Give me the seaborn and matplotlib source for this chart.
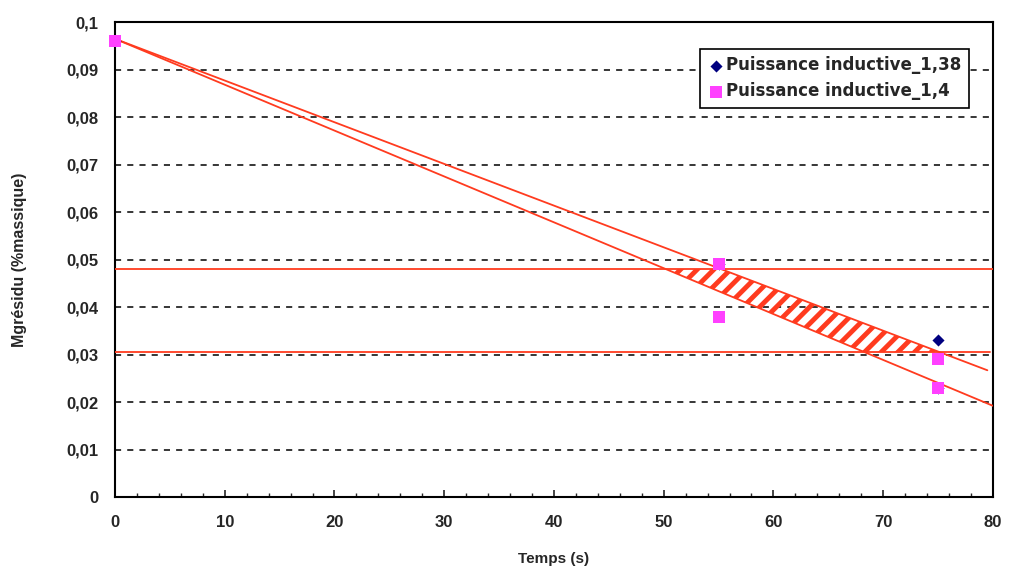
import numpy as np
import pandas as pd
import matplotlib.pyplot as plt
import seaborn as sns
from matplotlib.ticker import MultipleLocator, FuncFormatter

# Données
temps_138 = [75, 0, 55, 75]
mg_138 = [0.023, 0.096, 0.049, 0.033]
temps_14 = [0, 55, 55, 75, 75]
mg_14 = [0.096, 0.049, 0.038, 0.029, 0.023]

# Droites de tendance (ordonnée à l'origine, pente, fin)
tend_ordonnee = [0.0965, 0.0965]
tend_pente = [-0.000878, -0.000966]
tend_fin = [79.5, 80]

# Seuils horizontaux
seuils = [0.048, 0.0305]

df138 = pd.DataFrame({'Temps': temps_138, 'Mg': mg_138, 'Serie': 'Puissance inductive_1,38'})
df14 = pd.DataFrame({'Temps': temps_14, 'Mg': mg_14, 'Serie': 'Puissance inductive_1,4'})

sns.set_style('white')
plt.rcParams['font.family'] = ['Liberation Sans', 'DejaVu Sans']
plt.rcParams['hatch.linewidth'] = 3.5

rouge = '#ff3b1f'
fig = plt.figure(figsize=(10.09, 5.70), dpi=100)
ax = fig.add_axes([0.114, 0.128, 0.870, 0.833])

# zone hachurée entre les deux droites et les seuils
xx = np.linspace(0, 80, 801)
y1 = tend_ordonnee[0] + tend_pente[0] * xx
y2 = tend_ordonnee[1] + tend_pente[1] * xx
haut = np.minimum(y1, max(seuils))
bas = np.maximum(y2, min(seuils))
ax.fill_between(xx, bas, haut, where=haut > bas, facecolor='none', edgecolor=rouge,
                hatch='//', linewidth=0, zorder=2)

for b, a, fin in zip(tend_ordonnee, tend_pente, tend_fin):
    ax.plot([0, fin], [b, b + a * fin], color=rouge, lw=1.3, zorder=3)

ax.axhline(seuils[0], color=rouge, lw=1.3, zorder=3)
ax.plot([0, 79.7], [seuils[1], seuils[1]], color=rouge, lw=1.3, zorder=3)

sns.scatterplot(data=df138, x='Temps', y='Mg', color='#000080', marker='D',
                s=38, linewidth=0, ax=ax, zorder=4, clip_on=False, label='Puissance inductive_1,38')
sns.scatterplot(data=df14, x='Temps', y='Mg', color='#ff40ff', marker='s',
                s=80, linewidth=0, ax=ax, zorder=5, clip_on=False, label='Puissance inductive_1,4')

ax.set_xlim(0, 80)
ax.set_ylim(0, 0.1)
ax.xaxis.set_major_locator(MultipleLocator(10))
ax.xaxis.set_minor_locator(MultipleLocator(2))
ax.yaxis.set_major_locator(MultipleLocator(0.01))
fmt = FuncFormatter(lambda v, p: ('%g' % round(v, 3)).replace('.', ','))
ax.yaxis.set_major_formatter(fmt)

ax.grid(axis='y', color='black', linestyle=(0, (4, 4)), lw=1.1)
for sp in ax.spines.values():
    sp.set_color('black')
    sp.set_linewidth(1.5)

ax.tick_params(axis='x', which='major', direction='in', length=5, width=1.2, pad=13,
               labelsize=12, bottom=True)
ax.tick_params(axis='x', which='minor', direction='in', length=3, width=1, bottom=True)
ax.tick_params(axis='y', which='major', length=0, pad=12, labelsize=12)
for lab in ax.get_xticklabels() + ax.get_yticklabels():
    lab.set_fontweight('bold')

ax.set_xlabel('Temps (s)', fontsize=11, fontweight='bold', labelpad=16)
ax.set_ylabel('Mgrésidu (%massique)', fontsize=11.5, fontweight='bold', labelpad=28)

leg = ax.legend(loc='upper right', bbox_to_anchor=(0.982, 0.962), frameon=True, fancybox=False,
                edgecolor='black', framealpha=1,
                prop={'family': 'DejaVu Sans', 'weight': 'bold', 'size': 12},
                handletextpad=0.1, borderpad=0.45, labelspacing=0.5, handlelength=1.0)
leg.get_frame().set_linewidth(1.2)

plt.savefig('out.png', dpi=100)
plt.close()
